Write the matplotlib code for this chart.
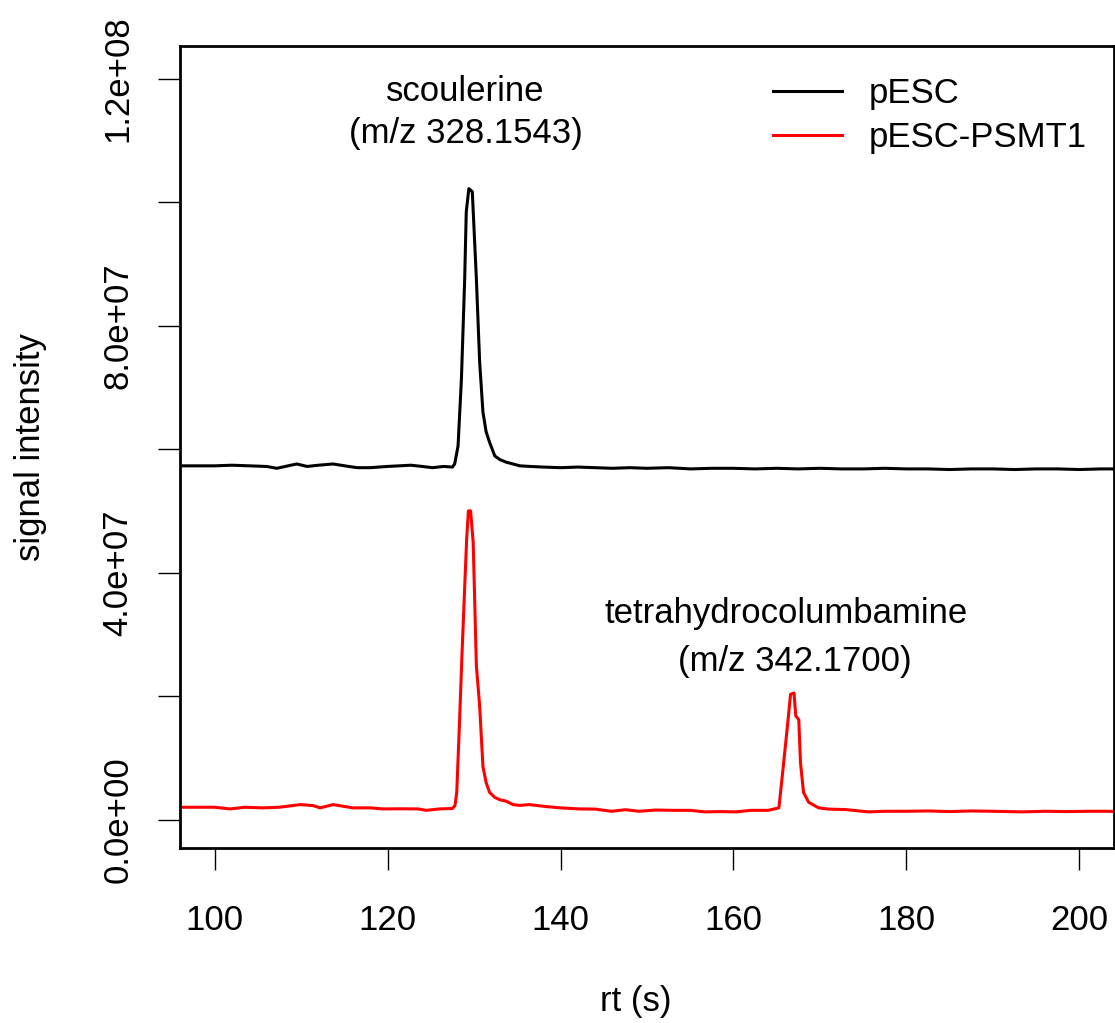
import matplotlib
matplotlib.use("Agg")
import matplotlib.pyplot as plt
from matplotlib.lines import Line2D

# ---------------- data (intensity in millions) ----------------
SCALE = 1e6

rt_pesc = [95.0, 98.0, 100.0, 102.0, 104.0, 106.0, 107.2, 108.5, 109.5, 110.7,
           112.0, 113.7, 115.5, 116.5, 118.0, 120.0, 122.7, 124.0, 125.2, 126.5,
           127.5, 127.76, 128.15, 128.54, 128.92, 129.1, 129.4, 129.8, 130.27,
           130.65, 131.03, 131.4, 131.8, 132.4, 133.0, 133.7, 134.5, 135.3,
           136.5, 138.0, 140.0, 142.0, 144.0, 146.0, 148.0, 150.0, 152.5,
           155.0, 157.5, 160.0, 162.5, 165.0, 167.5, 170.0, 172.5, 175.0,
           177.5, 180.0, 182.5, 185.0, 187.5, 190.0, 192.5, 195.0, 197.5,
           200.0, 202.5, 205.0]
int_pesc = [57.3, 57.3, 57.3, 57.4, 57.3, 57.2, 56.9, 57.3, 57.6, 57.2,
            57.4, 57.6, 57.2, 57.0, 57.0, 57.2, 57.4, 57.2, 57.0, 57.2,
            57.1, 57.6, 60.5, 71.3, 87.6, 98.4, 102.2, 101.7, 87.6,
            74.1, 66.0, 62.8, 61.1, 58.9, 58.3, 57.9, 57.6, 57.3,
            57.2, 57.1, 57.0, 57.1, 57.0, 56.9, 57.0, 56.9, 57.0,
            56.8, 56.9, 56.9, 56.8, 56.9, 56.8, 56.9, 56.8, 56.8,
            56.9, 56.8, 56.8, 56.7, 56.8, 56.8, 56.7, 56.8, 56.8,
            56.7, 56.8, 56.8]

rt_psmt1 = [95.0, 98.0, 100.0, 101.8, 103.5, 105.5, 107.5, 109.9, 111.4, 112.2,
            113.7, 116.0, 118.0, 119.5, 121.5, 123.5, 124.5, 126.0, 127.5,
            127.8, 128.0, 128.3, 128.6, 128.9, 129.15, 129.35, 129.6, 129.9,
            130.27, 130.65, 131.03, 131.4, 131.8, 132.4, 133.0, 133.7, 134.5,
            135.3, 136.4, 138.4, 140.0, 142.2, 144.0, 145.9, 147.5, 149.1,
            151.0, 153.0, 155.0, 156.7, 158.5, 160.3, 162.0, 164.0, 165.25,
            165.6, 166.2, 166.6, 167.0, 167.2, 167.55, 167.75, 168.1, 168.7,
            169.85, 171.0, 173.0, 175.6, 177.6, 180.0, 182.5, 185.0, 187.5,
            190.0, 193.4, 196.0, 198.5, 201.2, 203.2, 205.0]
int_psmt1 = [2.0, 2.0, 2.0, 1.73, 2.0, 1.9, 2.0, 2.43, 2.27, 1.9,
             2.43, 1.9, 1.9, 1.73, 1.75, 1.73, 1.5, 1.73, 1.8,
             2.3, 4.4, 15.0, 26.5, 37.0, 45.5, 50.0, 50.0, 45.0,
             24.9, 18.4, 8.6, 6.0, 4.4, 3.6, 3.2, 3.0, 2.43,
             2.3, 2.43, 2.1, 1.9, 1.73, 1.7, 1.35, 1.6, 1.35,
             1.55, 1.5, 1.5, 1.25, 1.3, 1.25, 1.5, 1.5, 1.9,
             6.5, 14.6, 20.3, 20.5, 16.8, 16.2, 9.2, 4.4, 2.8,
             1.9, 1.7, 1.62, 1.25, 1.35, 1.35, 1.4, 1.3, 1.4,
             1.35, 1.25, 1.35, 1.3, 1.35, 1.35, 1.3]

series_labels = ["pESC", "pESC-PSMT1"]
series_colors = ["black", "#ff0000"]

x_ticks = [100, 120, 140, 160, 180, 200]
y_ticks = [0, 2e7, 4e7, 6e7, 8e7, 1e8, 1.2e8]
y_tick_labels = ["0.0e+00", "", "4.0e+07", "", "8.0e+07", "", "1.2e+08"]

annotations = [("scoulerine", 129.0, 117.9), ("(m/z 328.1543)", 129.0, 111.1),
               ("tetrahydrocolumbamine", 166.1, 33.4), ("(m/z 342.1700)", 167.1, 25.6)]

# ---------------- figure ----------------
plt.rcParams['font.family'] = ['Liberation Sans', 'DejaVu Sans']
FS = 25

fig = plt.figure(figsize=(11.15, 10.23), dpi=100)
W, H = 1115, 1023
ax = fig.add_axes([180 / W, 1 - 848 / H, (1114 - 180) / W, (848 - 46) / H])

ax.plot(rt_pesc, [v * SCALE for v in int_pesc], color=series_colors[0], lw=2.2)
ax.plot(rt_psmt1, [v * SCALE for v in int_psmt1], color=series_colors[1], lw=2.2)

ax.set_xlim(96, 204)
ax.set_ylim(-4.6e6, 125.3e6)

ax.set_xticks(x_ticks)
ax.set_xticklabels([str(t) for t in x_ticks], fontsize=FS)
ax.set_yticks(y_ticks)
ax.set_yticklabels(y_tick_labels, fontsize=FS, rotation=90, va='center')
ax.tick_params(axis='x', length=16, width=1.0, pad=24)
ax.tick_params(axis='y', length=16, width=1.0, pad=17)
for s in ax.spines.values():
    s.set_linewidth(2.0)

for txt, x, y in annotations:
    ax.text(x, y * SCALE, txt, fontsize=FS, ha='center', va='center')

fig.text(31 / W, 1 - 447 / H, "signal intensity", rotation=90, ha='center', va='center', fontsize=FS)
fig.text(636 / W, 1 - 1002 / H, "rt (s)", ha='center', va='center', fontsize=FS)

handles = [Line2D([], [], color=c, lw=2.2) for c in series_colors]
ax.legend(handles, series_labels, loc='upper left', bbox_to_anchor=((773 - 180) / 934, 1 - (77 - 46) / 802),
          frameon=False, fontsize=FS, handlelength=2.0, handletextpad=0.75,
          borderpad=0, borderaxespad=0, labelspacing=0.32)

fig.savefig("out.png", dpi=100)
